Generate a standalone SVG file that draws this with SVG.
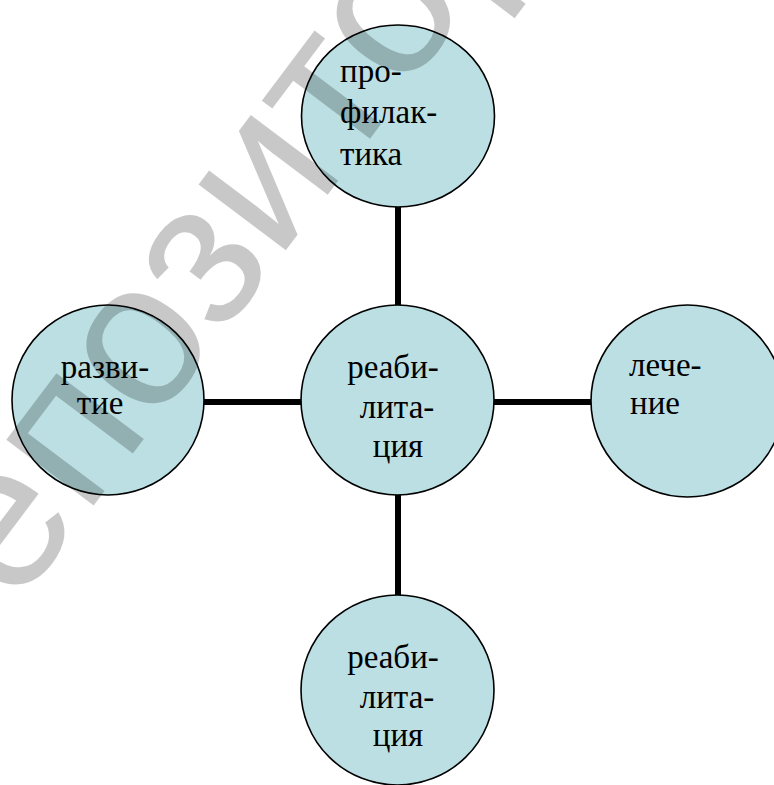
<svg xmlns="http://www.w3.org/2000/svg" width="774" height="785" viewBox="0 0 774 785">
<style>
.node ellipse{fill:#BBDFE3;stroke:#000;stroke-width:1.6}
.lbl{font-family:'Liberation Serif','Times New Roman',serif;font-size:33px;fill:#000}
.mid{text-anchor:middle}
.conn line{stroke:#000;stroke-width:6}
.wm{font-family:'Liberation Sans',Arial,sans-serif;font-size:207px;fill:#000;fill-opacity:0.216}
</style>
<rect width="774" height="785" fill="#fff"/>
<g id="connectors" class="conn">
<line x1="398" y1="206" x2="398" y2="306"/>
<line x1="398" y1="494" x2="398" y2="596"/>
<line x1="203" y1="402" x2="302" y2="402"/>
<line x1="493" y1="402" x2="592" y2="402"/>
</g>
<g id="n-top" class="node">
<ellipse cx="398" cy="116" rx="96.5" ry="91"/>
<text class="lbl" x="340" y="82">про-</text>
<text class="lbl" x="340" y="123">филак-</text>
<text class="lbl" x="340" y="165">тика</text>
</g>
<g id="n-center" class="node">
<ellipse cx="397.5" cy="400" rx="96.5" ry="95"/>
<text class="lbl mid" x="393" y="378">реаби-</text>
<text class="lbl mid" x="397" y="418">лита-</text>
<text class="lbl mid" x="398" y="457">ция</text>
</g>
<g id="n-left" class="node">
<ellipse cx="108" cy="400" rx="96" ry="95"/>
<text class="lbl mid" x="105" y="378">разви-</text>
<text class="lbl mid" x="100" y="414">тие</text>
</g>
<g id="n-right" class="node">
<ellipse cx="687.5" cy="401" rx="96.5" ry="96"/>
<text class="lbl" x="629" y="376">лече-</text>
<text class="lbl" x="630" y="414">ние</text>
</g>
<g id="n-bottom" class="node">
<ellipse cx="397.5" cy="690" rx="96.5" ry="95"/>
<text class="lbl mid" x="393" y="668">реаби-</text>
<text class="lbl mid" x="397" y="708">лита-</text>
<text class="lbl mid" x="398" y="746">ция</text>
</g>
<text class="wm" transform="translate(-62,712) rotate(-53)" x="0" y="0">Репозиторий</text>
</svg>
